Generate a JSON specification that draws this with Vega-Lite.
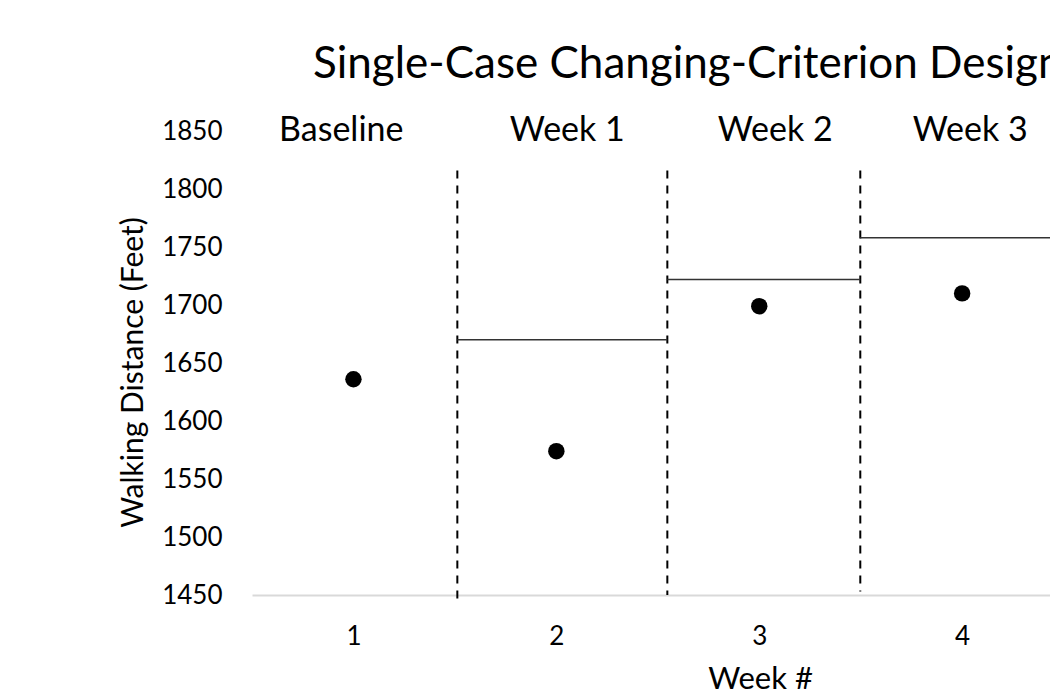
{
  "$schema": "https://vega.github.io/schema/vega-lite/v6.json",
  "width": 798,
  "height": 464,
  "autosize": {"type": "none"},
  "padding": {"left": 252, "top": 131, "right": 0, "bottom": 101},
  "background": "white",
  "config": {"view": {"stroke": null}, "font": "Lato"},
  "title": {
    "text": "Single-Case Changing-Criterion Design",
    "anchor": "start",
    "frame": "group",
    "dx": 61,
    "fontSize": 44,
    "fontWeight": "normal",
    "font": "Lato",
    "color": "black",
    "baseline": "alphabetic",
    "offset": -8
  },
  "datasets": {
    "points": [
      {"week": 1, "distance": 1636},
      {"week": 2, "distance": 1574},
      {"week": 3, "distance": 1699},
      {"week": 4, "distance": 1710}
    ],
    "phases": [
      {"pos": 1.512, "top": 1816, "bottom": 1447},
      {"pos": 2.547, "top": 1816, "bottom": 1450},
      {"pos": 3.498, "top": 1816, "bottom": 1453}
    ],
    "criteria": [
      {"start": 1.512, "end": 2.547, "criterion": 1670},
      {"start": 2.547, "end": 3.498, "criterion": 1722},
      {"start": 3.498, "end": 4.433, "criterion": 1758}
    ],
    "labels": [
      {"pos": 0.94, "label": "Baseline"},
      {"pos": 2.054, "label": "Week 1"},
      {"pos": 3.079, "label": "Week 2"},
      {"pos": 4.04, "label": "Week 3"}
    ]
  },
  "layer": [
    {
      "data": {"name": "points"},
      "mark": {"type": "point", "filled": true, "color": "black", "size": 270, "shape": "circle", "opacity": 1},
      "encoding": {
        "x": {
          "field": "week",
          "type": "quantitative",
          "scale": {"domain": [0.5, 4.433], "nice": false, "zero": false},
          "axis": {
            "values": [1, 2, 3, 4],
            "format": "d",
            "title": "Week #",
            "titleFontSize": 31,
            "titleFontWeight": "normal",
            "titleColor": "black",
            "titleX": 508,
            "titleY": 84,
            "titleBaseline": "middle",
            "labelFontSize": 26,
            "labelColor": "black",
            "labelPadding": 41,
            "labelBaseline": "middle",
            "ticks": false,
            "grid": false,
            "domainColor": "#d9d9d9",
            "domainWidth": 2
          }
        },
        "y": {
          "field": "distance",
          "type": "quantitative",
          "scale": {"domain": [1450, 1850], "nice": false, "zero": false},
          "axis": {
            "values": [1450, 1500, 1550, 1600, 1650, 1700, 1750, 1800, 1850],
            "format": "d",
            "title": "Walking Distance (Feet)",
            "titleFontSize": 30,
            "titleFontWeight": "normal",
            "titleColor": "black",
            "titleX": -119,
            "titleY": 241,
            "titleAngle": -90,
            "titleAlign": "center",
            "titleBaseline": "middle",
            "labelFontSize": 26,
            "labelColor": "black",
            "labelPadding": 30,
            "ticks": false,
            "grid": false,
            "domain": false
          }
        }
      }
    },
    {
      "data": {"name": "phases"},
      "mark": {"type": "rule", "color": "black", "strokeWidth": 2, "strokeDash": [8, 7]},
      "encoding": {
        "x": {"field": "pos", "type": "quantitative"},
        "y": {"field": "top", "type": "quantitative"},
        "y2": {"field": "bottom"}
      }
    },
    {
      "data": {"name": "criteria"},
      "mark": {"type": "rule", "color": "#333333", "strokeWidth": 1.5},
      "encoding": {
        "x": {"field": "start", "type": "quantitative"},
        "x2": {"field": "end"},
        "y": {"field": "criterion", "type": "quantitative"}
      }
    },
    {
      "data": {"name": "labels"},
      "mark": {"type": "text", "fontSize": 34, "color": "black", "baseline": "middle", "align": "center", "font": "Lato"},
      "encoding": {
        "x": {"field": "pos", "type": "quantitative"},
        "y": {"datum": 1850, "type": "quantitative"},
        "text": {"field": "label"}
      }
    }
  ]
}
